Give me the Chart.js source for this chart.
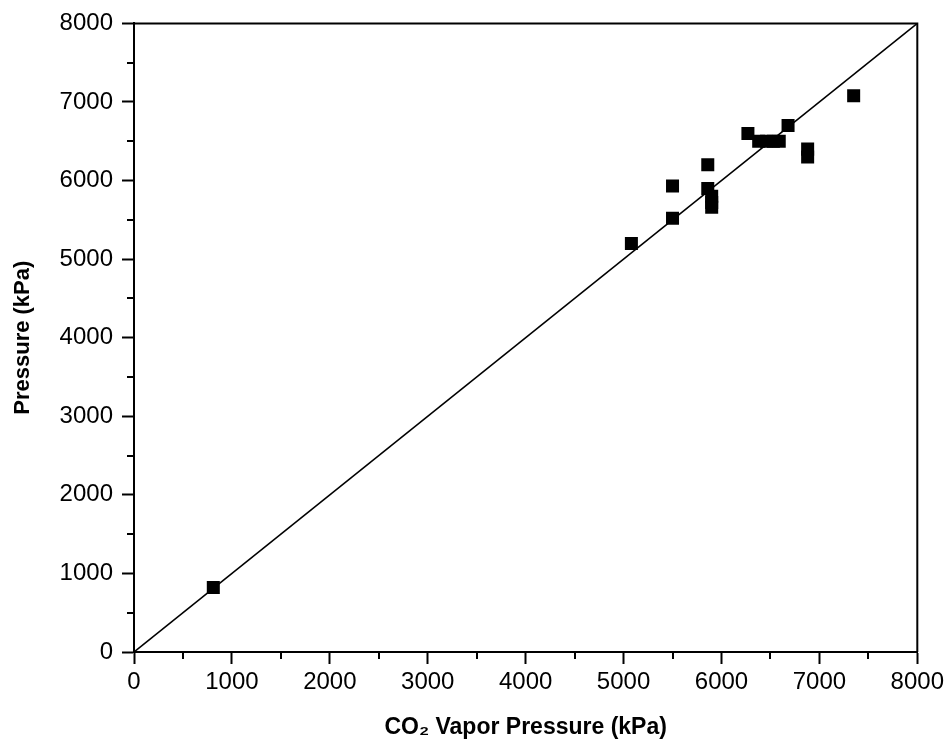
<!DOCTYPE html>
<html><head><meta charset="utf-8">
<script src="https://cdn.jsdelivr.net/npm/chart.js@4"></script>
<style>html,body{margin:0;padding:0;background:#fff}#w{width:948px;height:745px;position:relative}</style>
</head><body><div id="w"><canvas id="c"></canvas></div>
<script>
// Measured points: CO2 vapor pressure (x) vs pressure (y), kPa
const xValues = [810, 5080, 5500, 5500, 5860, 5860, 5900, 5900, 5900, 6270, 6380, 6460, 6530, 6590, 6680, 6880, 6880, 7350];
const yValues = [820, 5200, 5520, 5930, 5900, 6200, 5800, 5720, 5660, 6600, 6500, 6500, 6500, 6500, 6700, 6400, 6300, 7080];
// y = x reference line
const lineX = [0, 8000];
const lineY = [0, 8000];
// axis ticks
const majorTicks = [0, 1000, 2000, 3000, 4000, 5000, 6000, 7000, 8000];
const tickLabels = ['0', '1000', '2000', '3000', '4000', '5000', '6000', '7000', '8000'];
const minorTicks = [500, 1500, 2500, 3500, 4500, 5500, 6500, 7500];
const xTitle = 'CO\u2082 Vapor Pressure (kPa)';
const yTitle = 'Pressure (kPa)';

const FONT = "'Liberation Sans', Arial, Helvetica, sans-serif";

const minorTickPlugin = {
  id: 'minorTicks',
  afterDraw(chart) {
    const {ctx, chartArea: a, scales: {x, y}} = chart;
    ctx.save();
    ctx.strokeStyle = '#000';
    ctx.lineWidth = 2;
    ctx.beginPath();
    minorTicks.forEach(v => {
      const px = Math.round(x.getPixelForValue(v));
      ctx.moveTo(px, a.bottom); ctx.lineTo(px, a.bottom + 7);
      const py = Math.round(y.getPixelForValue(v));
      ctx.moveTo(a.left, py); ctx.lineTo(a.left - 7, py);
    });
    ctx.stroke();
    // frame top and right
    ctx.beginPath();
    ctx.moveTo(a.left, a.top); ctx.lineTo(a.right, a.top); ctx.lineTo(a.right, a.bottom);
    ctx.stroke();
    ctx.restore();
  }
};

const points = xValues.map((v, i) => ({x: v, y: yValues[i]}));
const linePts = lineX.map((v, i) => ({x: v, y: lineY[i]}));
const fmt = v => { const i = majorTicks.indexOf(v); return i >= 0 ? tickLabels[i] : String(v); };

new Chart(document.getElementById('c'), {
  type: 'scatter',
  data: {
    datasets: [
      {
        type: 'line', data: linePts, borderColor: '#000', borderWidth: 1.6,
        pointRadius: 0, fill: false, tension: 0, order: 2
      },
      {
        data: points, pointStyle: 'rect', pointRadius: 9.2, pointHoverRadius: 9.2,
        backgroundColor: '#000', borderColor: '#000', borderWidth: 0, order: 1
      }
    ]
  },
  options: {
    responsive: true, maintainAspectRatio: false, animation: false,
    layout: {padding: {left: 0, right: 30, top: 22, bottom: 0}},
    plugins: {legend: {display: false}, tooltip: {enabled: false}},
    scales: {
      x: {
        type: 'linear', min: 0, max: 8000,
        afterBuildTicks: s => { s.ticks = majorTicks.map(v => ({value: v})); },
        afterFit: s => { s.height = 93; },
        border: {color: '#000', width: 2},
        grid: {drawOnChartArea: false, drawTicks: true, tickLength: 12, tickColor: '#000', tickWidth: 2},
        ticks: {color: '#000', font: {family: FONT, size: 24}, padding: 4, maxRotation: 0, callback: fmt},
        title: {display: true, text: xTitle, color: '#000', font: {family: FONT, size: 23, weight: 'bold'}, padding: {top: 0, bottom: 4}}
      },
      y: {
        type: 'linear', min: 0, max: 8000,
        afterBuildTicks: s => { s.ticks = majorTicks.map(v => ({value: v})); },
        afterFit: s => { s.width = 134; },
        border: {color: '#000', width: 2},
        grid: {drawOnChartArea: false, drawTicks: true, tickLength: 12, tickColor: '#000', tickWidth: 2},
        ticks: {color: '#000', font: {family: FONT, size: 24}, padding: 9, callback: fmt},
        title: {display: true, text: yTitle, color: '#000', font: {family: FONT, size: 22, weight: 'bold'}, padding: {top: 10, bottom: 0}}
      }
    }
  },
  plugins: [minorTickPlugin]
});
</script>
</body></html>
